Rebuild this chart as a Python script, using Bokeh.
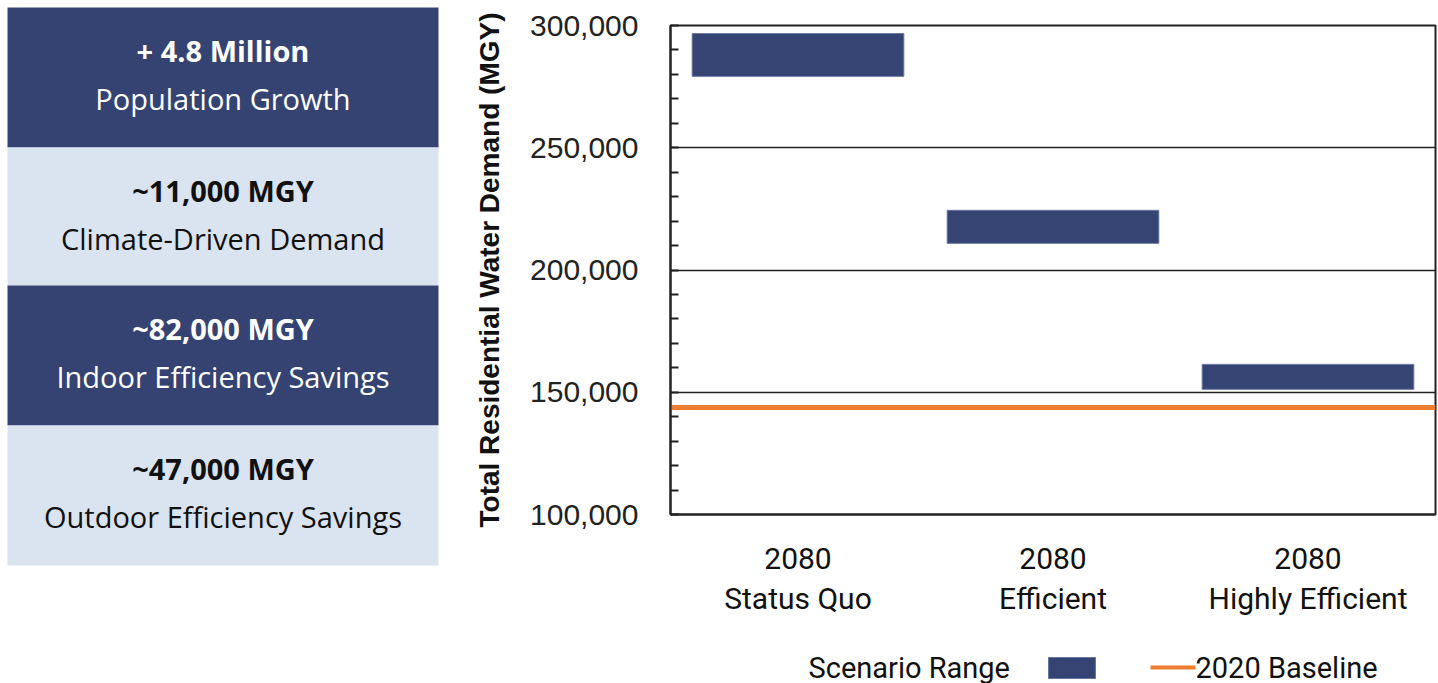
from bokeh.plotting import figure
from bokeh.models import Range1d, FactorRange, SingleIntervalTicker, NumeralTickFormatter
from bokeh.layouts import row, column
from bokeh.embed import file_html
from bokeh.resources import INLINE
from bokeh.core.properties import value

# ---- data ----
scenarios = ["2080\nStatus Quo", "2080\nEfficient", "2080\nHighly Efficient"]
range_low = [279200, 210900, 151200]
range_high = [296700, 224400, 161400]
baseline_2020 = 143600

panel_values = ["+ 4.8 Million", "~11,000 MGY", "~82,000 MGY", "~47,000 MGY"]
panel_labels = ["Population Growth", "Climate-Driven Demand", "Indoor Efficiency Savings", "Outdoor Efficiency Savings"]

NAVY = "#354373"
LIGHT = "#DAE3F0"
ORANGE = "#ED7D31"
BAR = "#354472"

# ---- left panel ----
left = figure(width=450, height=683, x_range=Range1d(0, 450), y_range=Range1d(683, 0),
              output_backend="svg", toolbar_location=None, min_border=0)
left.axis.visible = False
left.grid.visible = False
left.outline_line_color = None
tops = [7, 147, 285, 425]
bots = [147, 285, 425, 565]
fills = [NAVY, LIGHT, NAVY, LIGHT]
tcols = ["white", "#111111", "white", "#111111"]
left.quad(left=[7] * 4, right=[438] * 4, top=tops, bottom=bots, fill_color=fills, line_color=None)
for t, b, v, l, c in zip(tops, bots, panel_values, panel_labels, tcols):
    left.text(x=[222.5], y=[t + 43], text=[v], text_align="center", text_baseline="middle",
              text_font=value("Open Sans"), text_font_style="bold", text_font_size="29px", text_color=c)
    left.text(x=[222.5], y=[t + 91], text=[l], text_align="center", text_baseline="middle",
              text_font=value("Open Sans"), text_font_size="29px", text_color=c)

# ---- chart ----
p = figure(width=988, height=640, x_range=FactorRange(*scenarios, range_padding=0),
           y_range=Range1d(100000, 300000), output_backend="svg", toolbar_location=None,
           min_border_left=220, min_border_right=3, min_border_top=25, min_border_bottom=126)
p.vbar(x=scenarios, bottom=range_low, top=range_high, width=0.83,
       fill_color=BAR, line_color="#6a76a0", line_width=1)
p.hspan(y=[baseline_2020], line_color=ORANGE, line_width=5)

p.yaxis.ticker = SingleIntervalTicker(interval=50000, num_minor_ticks=5)
p.yaxis.formatter = NumeralTickFormatter(format="0,0")
p.yaxis.major_tick_out = 0
p.yaxis.major_tick_in = 0
p.yaxis.minor_tick_in = 8
p.yaxis.minor_tick_out = 0
p.yaxis.minor_tick_line_width = 2
p.yaxis.minor_tick_line_color = "#222222"
p.yaxis.axis_line_width = 2
p.yaxis.axis_line_color = "#222222"
p.yaxis.major_label_text_font = "Liberation Sans"
p.yaxis.major_label_text_font_size = "30px"
p.yaxis.major_label_text_color = "#222222"
p.yaxis.major_label_standoff = 32
p.yaxis.axis_label = "Total Residential Water Demand (MGY)"
p.yaxis.axis_label_text_font = "Liberation Sans"
p.yaxis.axis_label_text_font_style = "bold"
p.yaxis.axis_label_text_font_size = "28px"
p.yaxis.axis_label_text_color = "#111111"
p.yaxis.axis_label_standoff = 22

p.xaxis.major_tick_out = 0
p.xaxis.major_tick_in = 0
p.xaxis.axis_line_width = 2
p.xaxis.axis_line_color = "#222222"
p.xaxis.major_label_text_font = "Roboto"
p.xaxis.major_label_text_font_size = "30px"
p.xaxis.major_label_text_color = "#111111"
p.xaxis.major_label_text_line_height = 1.15
p.xaxis.major_label_standoff = 26
p.xaxis.major_label_orientation = "horizontal"

p.xgrid.visible = False
p.ygrid.grid_line_color = "#222222"
p.ygrid.grid_line_width = 1.5
p.outline_line_color = "#222222"
p.outline_line_width = 2

# ---- legend strip (frame aligned with chart frame: x 670..1435 in page pixels) ----
lg = figure(width=988, height=43, x_range=Range1d(670, 1435), y_range=Range1d(683, 640),
            output_backend="svg", toolbar_location=None,
            min_border_left=220, min_border_right=3, min_border_top=0, min_border_bottom=0)
lg.axis.visible = False
lg.grid.visible = False
lg.outline_line_color = None
lg.text(x=[808], y=[667], text=["Scenario Range"], text_align="left", text_baseline="middle",
        text_font=value("Roboto"), text_font_size="29px", text_color="#111111")
lg.quad(left=[1048], right=[1095], top=[657], bottom=[678], fill_color=BAR, line_color="#6a76a0")
lg.line(x=[1150, 1195], y=[667, 667], line_color=ORANGE, line_width=4)
lg.text(x=[1195], y=[667], text=["2020 Baseline"], text_align="left", text_baseline="middle",
        text_font=value("Roboto"), text_font_size="29px", text_color="#111111")

layout = row(left, column(p, lg))
open("out.html", "w").write(file_html(layout, INLINE))
